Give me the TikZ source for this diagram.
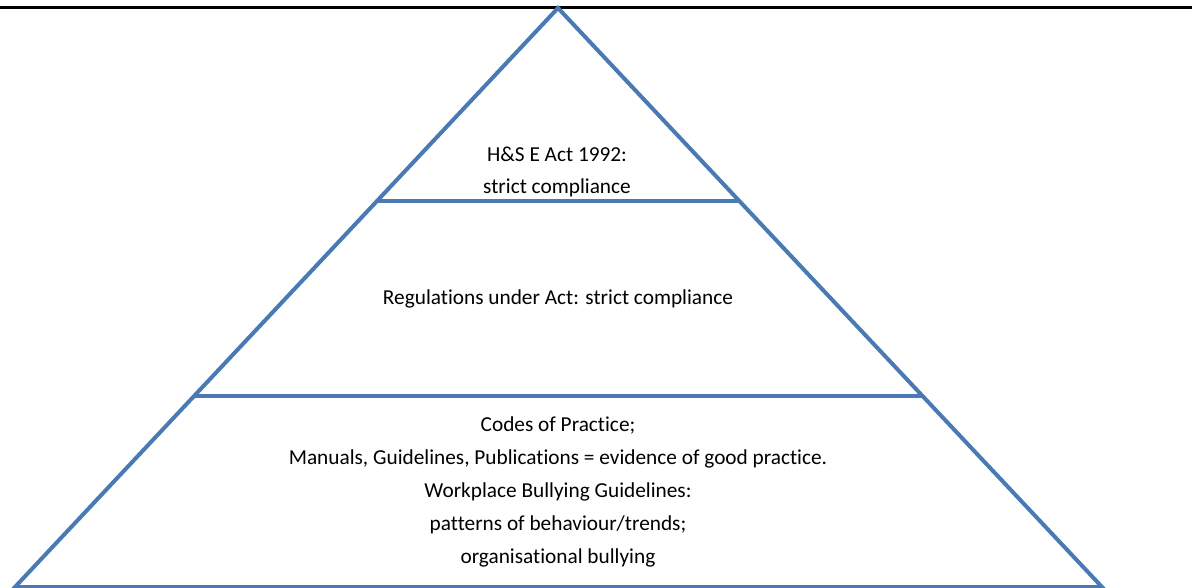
\documentclass[tikz,border=0pt]{standalone}
\usepackage{fontspec}
\setmainfont[Ligatures=NoCommon]{Carlito}
\usetikzlibrary{calc}

\definecolor{pyrblue}{RGB}{74,122,180}

\begin{document}
\begin{tikzpicture}[x=1pt,y=-1pt]
\tikzset{
  pyredge/.style={draw=pyrblue,line width=4pt,line join=miter},
  pyrtext/.style={align=center,font=\fontsize{21.3}{32.8}\selectfont,inner sep=0pt}
}
\useasboundingbox (0,0) rectangle (1192,588);
% rule along the top
\coordinate (ruleL) at (0,7.5);
\coordinate (ruleR) at (1192,7.5);
\draw [black,line width=2.5pt] (ruleL) -- (ruleR);
% outline of the pyramid
\coordinate (apex) at (558,8);
\coordinate (baseL) at (15,587);
\coordinate (baseR) at (1102,587);
\draw [pyredge] (apex) -- (baseL) -- (baseR) -- cycle;
% the two dividing lines
\coordinate (upL) at ($(apex)!0.334!(baseL)$);
\coordinate (upR) at ($(apex)!0.334!(baseR)$);
\coordinate (loL) at ($(apex)!0.6696!(baseL)$);
\coordinate (loR) at ($(apex)!0.6696!(baseR)$);
\draw [pyredge] (upL) -- (upR);
\draw [pyredge] (loL) -- (loR);
% labels of the three tiers
\node [pyrtext] (act) at (557,172) {H\&S E Act 1992:\\strict compliance};
\node [pyrtext] (regs) at (558,299) {Regulations under Act: strict compliance};
\node [pyrtext] (codes) at (558,492) {Codes of Practice;\\Manuals, Guidelines, Publications = evidence of good practice.\\Workplace Bullying Guidelines:\\patterns of behaviour/trends;\\organisational bullying};
\end{tikzpicture}
\end{document}
